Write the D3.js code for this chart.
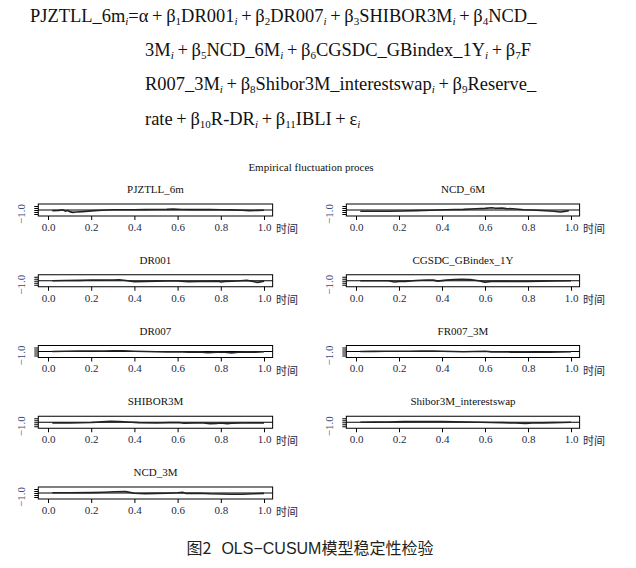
<!DOCTYPE html>
<html><head><meta charset="utf-8">
<script src="https://cdn.jsdelivr.net/npm/d3@7"></script>
<style>html,body{margin:0;padding:0;background:#fff;}</style>
</head><body>
<svg id="c" width="636" height="568"></svg>
<script>
// ---------------- DATA ----------------
const mainTitle = "Empirical fluctuation proces";
const xLabel = "时间";
const captionLabel = "图2";
const captionText = "OLS−CUSUM模型稳定性检验";
const leftPanels = ["PJZTLL_6m", "DR001", "DR007", "SHIBOR3M", "NCD_3M"];
const rightPanels = ["NCD_6M", "CGSDC_GBindex_1Y", "FR007_3M", "Shibor3M_interestswap"];
const xTicks = [0, 0.2, 0.4, 0.6, 0.8, 1.0];
const yTicks = [-1, -0.5, 0, 0.5, 1];
const yTickLabels = ["−1.0"];

// [time, fluctuation] pairs per series
const PJZTLL_6m = [[0.02,-0.15],[0.05,-0.1],[0.07,0.05],[0.08,-0.3],[0.09,-0.15],[0.10,-0.4],[0.115,-0.6],[0.13,-0.5],[0.16,-0.4],[0.2,-0.22],[0.25,-0.05],[0.3,0.05],[0.35,0.08],[0.4,0.08],[0.45,0.1],[0.5,0.12],[0.55,0.15],[0.58,0.22],[0.62,0.12],[0.66,0.1],[0.7,0.14],[0.75,0.1],[0.8,0.06],[0.85,0.02],[0.9,-0.05],[0.93,-0.15],[0.97,-0.1],[1.0,-0.05]];
const NCD_6M = [[0.02,-0.3],[0.08,-0.3],[0.15,-0.32],[0.22,-0.25],[0.28,-0.15],[0.35,-0.05],[0.42,0.05],[0.5,0.15],[0.56,0.3],[0.6,0.4],[0.63,0.55],[0.65,0.45],[0.68,0.5],[0.7,0.35],[0.73,0.3],[0.78,0.05],[0.82,0.0],[0.88,-0.2],[0.92,-0.3],[0.95,-0.5],[0.97,-0.35],[0.99,-0.2]];
const DR001 = [[0.02,0.0],[0.08,0.05],[0.15,0.1],[0.2,0.18],[0.25,0.15],[0.3,0.2],[0.33,0.25],[0.36,0.05],[0.4,-0.25],[0.45,-0.2],[0.5,-0.1],[0.55,-0.05],[0.6,-0.05],[0.65,-0.25],[0.7,-0.2],[0.75,-0.15],[0.79,-0.1],[0.8,-0.3],[0.82,-0.15],[0.88,-0.05],[0.92,0.1],[0.95,-0.2],[0.97,-0.4],[1.0,-0.1]];
const CGSDC_GBindex_1Y = [[0.02,0.0],[0.08,0.0],[0.15,0.0],[0.18,-0.3],[0.2,-0.2],[0.23,-0.15],[0.28,0.05],[0.33,0.2],[0.36,0.15],[0.38,-0.1],[0.42,0.15],[0.46,0.3],[0.49,0.35],[0.53,0.28],[0.57,0.0],[0.6,-0.35],[0.63,-0.2],[0.68,-0.15],[0.73,-0.2],[0.8,-0.18],[0.86,-0.1],[0.92,-0.05],[1.0,0.0]];
const DR007 = [[0.02,0.0],[0.08,0.05],[0.14,0.1],[0.2,0.12],[0.26,0.1],[0.3,0.18],[0.35,0.15],[0.4,0.05],[0.45,0.0],[0.5,-0.05],[0.55,-0.1],[0.6,-0.05],[0.65,-0.15],[0.7,-0.1],[0.74,-0.3],[0.78,-0.15],[0.82,-0.2],[0.85,-0.35],[0.88,-0.2],[0.92,-0.1],[0.96,-0.15],[1.0,-0.05]];
const FR007_3M = [[0.02,0.0],[0.08,0.02],[0.14,0.05],[0.2,0.08],[0.25,0.05],[0.3,0.1],[0.36,0.12],[0.4,0.05],[0.45,0.0],[0.5,-0.05],[0.55,0.0],[0.6,0.05],[0.63,-0.1],[0.68,-0.05],[0.72,-0.15],[0.78,-0.1],[0.84,-0.2],[0.9,-0.15],[0.95,-0.1],[1.0,-0.05]];
const SHIBOR3M = [[0.02,-0.15],[0.1,-0.15],[0.2,-0.05],[0.25,0.1],[0.29,0.25],[0.33,0.2],[0.37,0.05],[0.42,-0.1],[0.5,-0.2],[0.56,-0.1],[0.61,-0.1],[0.63,-0.25],[0.68,-0.15],[0.72,-0.2],[0.75,-0.35],[0.78,-0.3],[0.8,-0.2],[0.83,-0.35],[0.85,-0.25],[0.9,-0.2],[0.95,-0.15],[1.0,-0.15]];
const Shibor3M_interestswap = [[0.02,0.0],[0.08,0.02],[0.15,0.05],[0.22,0.15],[0.28,0.2],[0.34,0.18],[0.4,0.2],[0.46,0.12],[0.52,0.05],[0.58,0.0],[0.63,-0.05],[0.68,-0.1],[0.74,-0.2],[0.79,-0.3],[0.82,-0.2],[0.87,-0.15],[0.92,-0.1],[0.96,-0.05],[1.0,0.0]];
const NCD_3M = [[0.02,0.05],[0.1,0.05],[0.2,0.1],[0.26,0.2],[0.31,0.3],[0.36,0.35],[0.4,-0.05],[0.45,-0.15],[0.5,-0.1],[0.55,-0.05],[0.6,0.05],[0.625,0.15],[0.64,-0.1],[0.7,-0.05],[0.75,-0.2],[0.8,-0.25],[0.85,-0.3],[0.9,-0.3],[0.95,-0.2],[1.0,-0.1]];

const seriesByName = {PJZTLL_6m, NCD_6M, DR001, CGSDC_GBindex_1Y, DR007, FR007_3M, SHIBOR3M, Shibor3M_interestswap, NCD_3M};

// ---------------- LAYOUT ----------------
const svg = d3.select("#c");
const serif = "'Liberation Serif','Times New Roman',serif";
const cjk = "'Noto Sans CJK SC','Noto Sans',sans-serif";
const P = "\u2009+\u2009";

// Equation
const eqLines = [
  {x:30, y:22, w:507, parts:[["PJZTLL_6m"],["i","sub"],["=α"+P+"β"],["1","n"],["DR001"],["i","sub"],[P+"β"],["2","n"],["DR007"],["i","sub"],[P+"β"],["3","n"],["SHIBOR3M"],["i","sub"],[P+"β"],["4","n"],["NCD_"]]},
  {x:145, y:56, w:395, parts:[["3M"],["i","sub"],[P+"β"],["5","n"],["NCD_6M"],["i","sub"],[P+"β"],["6","n"],["CGSDC_GBindex_1Y"],["i","sub"],[P+"β"],["7","n"],["F"]]},
  {x:145, y:90, w:396, parts:[["R007_3M"],["i","sub"],[P+"β"],["8","n"],["Shibor3M_interestswap"],["i","sub"],[P+"β"],["9","n"],["Reserve_"]]},
  {x:145, y:125, w:212, parts:[["rate"+P+"β"],["10","n"],["R-DR"],["i","sub"],[P+"β"],["11","n"],["IBLI"+P+"ε"],["i","sub"]]}
];
const eqTexts = eqLines.map(L => {
  const t = svg.append("text").attr("x", L.x).attr("y", L.y)
    .attr("font-family", serif).attr("font-size", 19).attr("fill", "#111");
  L.parts.forEach(p => {
    if (p.length === 1) {
      t.append("tspan").text(p[0]);
    } else {
      t.append("tspan").attr("baseline-shift","-25%")
        .attr("font-size","0.6em").attr("font-style", p[1]==="sub" ? "italic" : "normal").text(p[0]);
    }
  });
  return t;
});
const w1 = eqTexts[0].node().getComputedTextLength();
const fs = 19 * eqLines[0].w / w1;
eqTexts.forEach(t => t.attr("font-size", fs));

// Main title
svg.append("text").attr("x", 311).attr("y", 171).attr("text-anchor","middle")
  .attr("font-family", serif).attr("font-size", 11).attr("fill","#111").text(mainTitle);

const colX = [{x0:48, x1:264}, {x0:356, x1:571}];
const rowTop = r => 204 + r * 70.75;
const boxH = 12;

function panel(name, col, row) {
  const c = colX[col];
  const x = d3.scaleLinear().domain([0,1]).range([c.x0, c.x1]);
  const xd = [-0.045, 1.04];
  const top = rowTop(row), bot = top + boxH;
  const y = d3.scaleLinear().domain([-1.5, 1.5]).range([bot, top]);
  const g = svg.append("g");
  const bx0 = x(xd[0]), bx1 = x(xd[1]);
  g.append("text").attr("x", (bx0+bx1)/2).attr("y", top - 11).attr("text-anchor","middle")
    .attr("font-family", serif).attr("font-size", 11).attr("fill","#111").text(name);
  g.append("line").attr("x1", bx0).attr("x2", bx1).attr("y1", y(0)).attr("y2", y(0))
    .attr("stroke","#000").attr("stroke-width",1);
  const data = seriesByName[name];
  g.append("path").datum(data)
    .attr("d", d3.line().x(d => x(d[0])).y(d => y(d[1])))
    .attr("fill","none").attr("stroke","#222").attr("stroke-width",1.6).attr("stroke-linejoin","round");
  g.append("rect").attr("x", bx0).attr("y", top).attr("width", bx1-bx0).attr("height", boxH)
    .attr("fill","none").attr("stroke","#000").attr("stroke-width",1);
  const xa = g.append("g").attr("transform", `translate(0,${bot})`)
    .call(d3.axisBottom(x).tickValues(xTicks).tickFormat(d3.format(".1f")).tickSize(4).tickPadding(3));
  xa.select(".domain").remove();
  xa.selectAll("line").attr("stroke","#000");
  xa.selectAll("text").attr("font-family", serif).attr("font-size", 11).attr("fill","#1f2a44");
  g.append("text").attr("x", x(1) + 12).attr("y", bot + 17)
    .attr("font-family", cjk).attr("font-size", 11).attr("fill","#1f2a44").text(xLabel);
  const ya = g.append("g").attr("transform", `translate(${bx0},0)`)
    .call(d3.axisLeft(y).tickValues(yTicks).tickFormat("").tickSize(4));
  ya.select(".domain").remove();
  ya.selectAll("line").attr("stroke","#000");
  g.append("text").attr("transform", `translate(${bx0 - 13},${y(-1)}) rotate(-90)`)
    .attr("text-anchor","middle").attr("font-family", serif).attr("font-size", 11)
    .attr("fill","#3c4a80").text(yTickLabels[0]);
}
leftPanels.forEach((n,i) => panel(n, 0, i));
rightPanels.forEach((n,i) => panel(n, 1, i));

// Caption
const cap = svg.append("text").attr("x", 310).attr("y", 554).attr("text-anchor","middle")
  .attr("font-family", "'Liberation Sans','Noto Sans CJK SC',sans-serif").attr("font-size", 16).attr("fill","#231f20");
cap.append("tspan").attr("font-family", cjk).text(captionLabel);
cap.append("tspan").attr("dx", 10).text(captionText.slice(0, 9));
cap.append("tspan").attr("font-family", cjk).text(captionText.slice(9));
</script>
</body></html>
